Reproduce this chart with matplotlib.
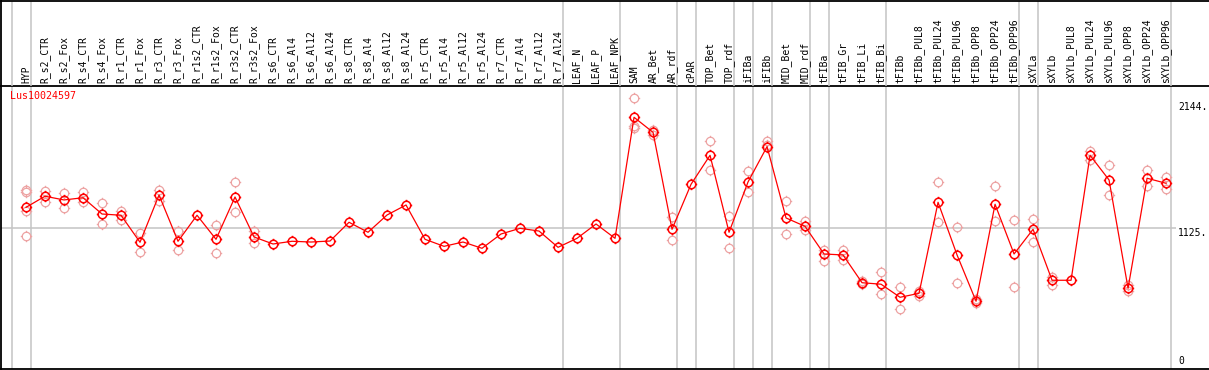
import numpy as np
import matplotlib
matplotlib.use("Agg")
import matplotlib.pyplot as plt
from matplotlib.path import Path
from matplotlib import transforms

TITLE = "Lus10024597"

categories = [
    "HYP",
    "R_s2_CTR", "R_s2_Fox", "R_s4_CTR", "R_s4_Fox", "R_r1_CTR", "R_r1_Fox",
    "R_r3_CTR", "R_r3_Fox", "R_r1s2_CTR", "R_r1s2_Fox", "R_r3s2_CTR", "R_r3s2_Fox",
    "R_s6_CTR", "R_s6_Al4", "R_s6_Al12", "R_s6_Al24", "R_s8_CTR", "R_s8_Al4",
    "R_s8_Al12", "R_s8_Al24", "R_r5_CTR", "R_r5_Al4", "R_r5_Al12", "R_r5_Al24",
    "R_r7_CTR", "R_r7_Al4", "R_r7_Al12", "R_r7_Al24",
    "LEAF_N", "LEAF_P", "LEAF_NPK",
    "SAM", "AR_Bet", "AR_rdf",
    "cPAR",
    "TOP_Bet", "TOP_rdf",
    "iFIBa",
    "iFIBb",
    "MID_Bet", "MID_rdf",
    "tFIBa",
    "tFIB_Gr", "tFIB_Li", "tFIB_Bi",
    "tFIBb", "tFIBb_PUL8", "tFIBb_PUL24", "tFIBb_PUL96", "tFIBb_OPP8",
    "tFIBb_OPP24", "tFIBb_OPP96",
    "sXYLa",
    "sXYLb", "sXYLb_PUL8", "sXYLb_PUL24", "sXYLb_PUL96", "sXYLb_OPP8",
    "sXYLb_OPP24", "sXYLb_OPP96",
]

# number of samples in each tissue group (separators drawn between groups)
group_sizes = [1, 28, 3, 3, 1, 2, 1, 1, 2, 1, 3, 7, 1, 7]

means = [
    1290,
    1380, 1350, 1368, 1236, 1226, 1007, 1390, 1015, 1226, 1031, 1374, 1050,
    993, 1015, 1009, 1017, 1169, 1088, 1228, 1309, 1031, 974, 1009, 958,
    1074, 1120, 1098, 966,
    1039, 1155, 1039,
    2020, 1898, 1112,
    1477,
    1712, 1088,
    1496,
    1782,
    1204, 1136,
    912,
    904, 679, 667,
    561, 593, 1331, 904, 529, 1315, 912,
    1112,
    699, 699, 1712, 1512, 634, 1526, 1485,
]

replicates = [
    [1431, 1412, 1263, 1058],
    [1425, 1333], [1406, 1282], [1417, 1336], [1323, 1153], [1263, 1188],
    [1080, 931], [1431, 1342], [1096, 942], [], [1145, 918], [1493, 1250],
    [1098, 1001],
    [], [], [], [], [], [], [], [], [], [], [], [], [], [], [], [],
    [], [], [],
    [2174, 1949, 1933], [1920, 1880], [1212, 1023],
    [],
    [1825, 1590], [1218, 961],
    [1585, 1412],
    [1828, 1796],
    [1339, 1072], [1179, 1104],
    [944, 859],
    [944, 867], [695, 669], [770, 586],
    [642, 470], [571, 612], [1493, 1169], [1128, 674], [547, 515],
    [1461, 1179], [1188, 642],
    [1196, 1007],
    [728, 663], [], [1747, 1674], [1633, 1388], [661, 612], [1593, 1461],
    [1539, 1436],
]

ytick_values = [0, 1125, 2144]
ytick_labels = ["0", "1125.", "2144."]

RED = "#ff0000"
PINK = "#eda3a3"
GRID = "#c4c4c4"
MONO = "DejaVu Sans Mono"

# open circle with four little ticks sticking out
r = 0.74
theta = np.linspace(0, 2 * np.pi, 33)
ring = Path(np.column_stack([r * np.cos(theta), r * np.sin(theta)]), closed=True)
ticks = Path(
    [(0, r), (0, 1), (0, -r), (0, -1), (r, 0), (1, 0), (-r, 0), (-1, 0)],
    [Path.MOVETO, Path.LINETO] * 4,
)
marker = Path.make_compound_path(ring, ticks)
MSIZE = 8.2

W, H = 1209, 370
fig = plt.figure(figsize=(W / 100, H / 100), dpi=100)

x = np.arange(len(categories))
x_left = -1.316
x_right = 62.26

header_px = 85.7
bottom_px = 369.3
ax = fig.add_axes([1 / W, (H - bottom_px) / H, 1 - 1 / W, (bottom_px - header_px) / H])
axh = fig.add_axes([1 / W, (H - header_px) / H, 1 - 1 / W, (header_px - 0.6) / H])

for a in (ax, axh):
    a.set_xlim(x_left, x_right)
    a.set_xticks([])
    a.set_yticks([])
    a.spines["right"].set_visible(False)
    for s in a.spines.values():
        s.set_linewidth(1.3)
        s.set_color("black")
    a.patch.set_alpha(0)

axh.spines["bottom"].set_visible(False)
axh.set_ylim(0, 1)
ax.set_ylim(-22.7, 2276)

# separators between sample groups
bounds = np.concatenate([[0], np.cumsum(group_sizes)]) - 0.75
for b in bounds:
    ax.axvline(b, color=GRID, lw=1.1, zorder=1)
    axh.axvline(b, color=GRID, lw=1.1, zorder=1)

ax.hlines(1125, x_left, 60.5, color=GRID, lw=1.1, zorder=1)

# replicate points
for xi, vals in zip(x, replicates):
    if vals:
        ax.plot([xi] * len(vals), vals, linestyle="none", marker=marker,
                markersize=MSIZE, markerfacecolor="none", markeredgecolor=PINK,
                markeredgewidth=0.9, zorder=2)

ax.plot(x, means, color=RED, lw=0.9, marker=marker, markersize=MSIZE,
        markerfacecolor="none", markeredgecolor=RED, markeredgewidth=1.1, zorder=3)

# sample labels along the header
tr = transforms.blended_transform_factory(axh.transData, axh.transAxes)
for xi, name in zip(x, categories):
    axh.text(xi, 0.03, name, rotation=90, ha="center", va="bottom",
             fontsize=7, family=MONO, transform=tr)

ax.text(9 / W, 1 - 5 / (bottom_px - header_px), TITLE, color=RED, fontsize=7.2,
        family=MONO, ha="left", va="top", transform=ax.transAxes)

ty = transforms.blended_transform_factory(ax.transAxes, ax.transData)
for v, lab in zip(ytick_values, ytick_labels):
    ax.text((1178 - 1) / (W - 1), v, lab, fontsize=7, family=MONO,
            ha="left", va="bottom" if v == 0 else "top", transform=ty)

fig.savefig("out.png", dpi=100)
